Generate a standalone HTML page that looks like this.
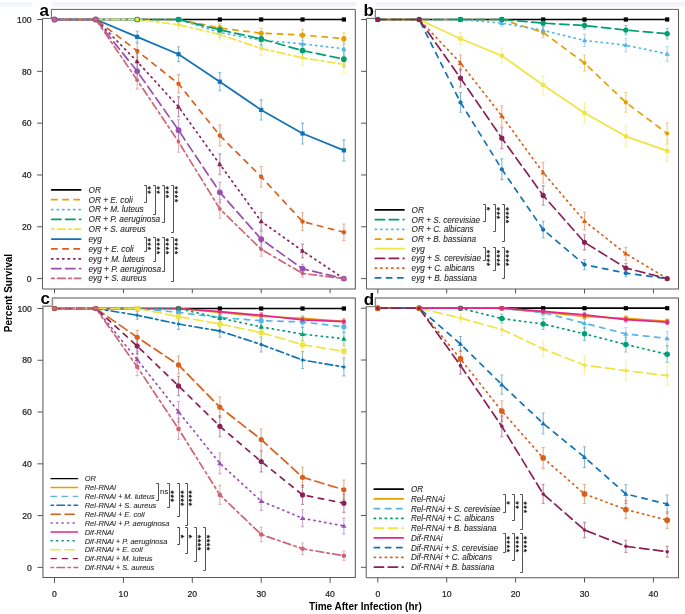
<!DOCTYPE html>
<html><head><meta charset="utf-8"><style>
html,body{margin:0;padding:0;background:#fff;width:685px;height:614px;overflow:hidden}
svg{display:block;font-family:"Liberation Sans",sans-serif;will-change:transform}
.tk{font-size:8.65px;fill:#222;stroke:#222;stroke-width:0.22}
.pl{font-size:17px;font-weight:bold;fill:#000}
.lg{font-style:italic;fill:#2a2a2a;stroke:#2a2a2a;stroke-width:0.1}
.ast{fill:#111;stroke:#111;stroke-width:0.25}
.ns{font-size:7.8px;fill:#2a2a2a;stroke:#2a2a2a;stroke-width:0.1}
.ax{font-size:10px;font-weight:bold;fill:#000}
</style></head><body>
<svg width="685" height="614" viewBox="0 0 685 614">
<rect x="0" y="0" width="685" height="614" fill="#fff"/>
<rect x="0" y="2" width="32.4" height="4.6" fill="#F4F5F9"/>
<rect x="52.5" y="2" width="303.7" height="4.6" fill="#F3F4F9"/>
<rect x="375.9" y="2" width="309.1" height="4.6" fill="#F3F4F9"/>
<path d="M42.5 289V18.4H51.4V9.4H355.3" fill="none" stroke="#606060" stroke-width="1"/>
<path d="M355.3 9.4V289H42.5" fill="none" stroke="#585858" stroke-width="1.05"/>
<path d="M37.1 278.6H42.5" stroke="#555" stroke-width="1"/>
<text x="31.5" y="281.8" text-anchor="end" class="tk">0</text>
<path d="M37.1 226.78H42.5" stroke="#555" stroke-width="1"/>
<text x="31.5" y="229.98" text-anchor="end" class="tk">20</text>
<path d="M37.1 174.96H42.5" stroke="#555" stroke-width="1"/>
<text x="31.5" y="178.16" text-anchor="end" class="tk">40</text>
<path d="M37.1 123.14H42.5" stroke="#555" stroke-width="1"/>
<text x="31.5" y="126.34" text-anchor="end" class="tk">60</text>
<path d="M37.1 71.32H42.5" stroke="#555" stroke-width="1"/>
<text x="31.5" y="74.52" text-anchor="end" class="tk">80</text>
<path d="M37.1 19.5H42.5" stroke="#555" stroke-width="1"/>
<text x="31.5" y="22.7" text-anchor="end" class="tk">100</text>
<path d="M54.5 289V293.2" stroke="#555" stroke-width="1"/>
<path d="M123.4 289V293.2" stroke="#555" stroke-width="1"/>
<path d="M192.3 289V293.2" stroke="#555" stroke-width="1"/>
<path d="M261.2 289V293.2" stroke="#555" stroke-width="1"/>
<path d="M330.1 289V293.2" stroke="#555" stroke-width="1"/>
<text x="39.6" y="15.8" class="pl">a</text>
<polyline points="54.5,19.5 95.84,19.5 137.18,19.5 178.52,19.5 219.86,19.5 261.2,19.5 302.54,19.5 343.88,19.5" fill="none" stroke="#000000" stroke-width="1.7" stroke-linecap="round" stroke-linejoin="round"/>
<polyline points="54.5,19.5 95.84,19.5 137.18,19.5 178.52,19.5 219.86,28.05 261.2,33.23 302.54,35.05 343.88,38.67" fill="none" stroke="#E69F00" stroke-width="1.7" stroke-linecap="round" stroke-linejoin="round" stroke-dasharray="5.3,5.9"/>
<polyline points="54.5,19.5 95.84,19.5 137.18,19.5 178.52,19.5 219.86,32.45 261.2,40.23 302.54,43.86 343.88,48.78" fill="none" stroke="#56B4E9" stroke-width="1.7" stroke-linecap="round" stroke-linejoin="round" stroke-dasharray="1.2,4.3"/>
<polyline points="54.5,19.5 95.84,19.5 137.18,19.5 178.52,19.5 219.86,29.86 261.2,38.93 302.54,50.59 343.88,59.14" fill="none" stroke="#009E73" stroke-width="1.7" stroke-linecap="round" stroke-linejoin="round" stroke-dasharray="9.3,4.7"/>
<polyline points="54.5,19.5 95.84,19.5 137.18,19.5 178.52,24.68 219.86,34.53 261.2,48.52 302.54,57.85 343.88,64.32" fill="none" stroke="#F0E442" stroke-width="1.7" stroke-linecap="round" stroke-linejoin="round" stroke-dasharray="2.5,3.4,7.7,3.4"/>
<polyline points="54.5,19.5 95.84,19.5 137.18,36.86 178.52,54.22 219.86,81.68 261.2,109.93 302.54,133.5 343.88,150.35" fill="none" stroke="#1273B4" stroke-width="1.7" stroke-linecap="round" stroke-linejoin="round"/>
<polyline points="54.5,19.5 95.84,19.5 137.18,50.85 178.52,83.76 219.86,135.58 261.2,176.77 302.54,221.6 343.88,232.22" fill="none" stroke="#D9601C" stroke-width="1.7" stroke-linecap="round" stroke-linejoin="round" stroke-dasharray="5.3,5.9"/>
<polyline points="54.5,19.5 95.84,19.5 137.18,61.47 178.52,106.82 219.86,164.34 261.2,221.34 302.54,250.88 343.88,278.6" fill="none" stroke="#882255" stroke-width="1.7" stroke-linecap="round" stroke-linejoin="round" stroke-dasharray="1.2,4.3"/>
<polyline points="54.5,19.5 95.84,19.5 137.18,71.32 178.52,130.14 219.86,192.32 261.2,239.22 302.54,268.75 343.88,278.6" fill="none" stroke="#9A50B2" stroke-width="1.7" stroke-linecap="round" stroke-linejoin="round" stroke-dasharray="9.3,4.7"/>
<polyline points="54.5,19.5 95.84,19.5 137.18,80.13 178.52,141.8 219.86,208.9 261.2,249.32 302.54,273.42 343.88,278.6" fill="none" stroke="#CC6677" stroke-width="1.7" stroke-linecap="round" stroke-linejoin="round" stroke-dasharray="2.5,3.4,7.7,3.4"/>
<path d="M219.86 23.8V32.3M218.36 23.8H221.36M218.36 32.3H221.36" stroke="#E69F00" stroke-opacity="0.5" stroke-width="1.1" fill="none"/>
<path d="M261.2 28.1V38.36M259.7 28.1H262.7M259.7 38.36H262.7" stroke="#E69F00" stroke-opacity="0.5" stroke-width="1.1" fill="none"/>
<path d="M302.54 29.65V40.44M301.04 29.65H304.04M301.04 40.44H304.04" stroke="#E69F00" stroke-opacity="0.5" stroke-width="1.1" fill="none"/>
<path d="M343.88 32.81V44.54M342.38 32.81H345.38M342.38 44.54H345.38" stroke="#E69F00" stroke-opacity="0.5" stroke-width="1.1" fill="none"/>
<path d="M219.86 27.44V37.47M218.36 27.44H221.36M218.36 37.47H221.36" stroke="#56B4E9" stroke-opacity="0.5" stroke-width="1.1" fill="none"/>
<path d="M261.2 34.18V46.28M259.7 34.18H262.7M259.7 46.28H262.7" stroke="#56B4E9" stroke-opacity="0.5" stroke-width="1.1" fill="none"/>
<path d="M302.54 37.41V50.3M301.04 37.41H304.04M301.04 50.3H304.04" stroke="#56B4E9" stroke-opacity="0.5" stroke-width="1.1" fill="none"/>
<path d="M343.88 41.85V55.71M342.38 41.85H345.38M342.38 55.71H345.38" stroke="#56B4E9" stroke-opacity="0.5" stroke-width="1.1" fill="none"/>
<path d="M219.86 25.28V34.45M218.36 25.28H221.36M218.36 34.45H221.36" stroke="#009E73" stroke-opacity="0.5" stroke-width="1.1" fill="none"/>
<path d="M261.2 33.04V44.83M259.7 33.04H262.7M259.7 44.83H262.7" stroke="#009E73" stroke-opacity="0.5" stroke-width="1.1" fill="none"/>
<path d="M302.54 43.5V57.68M301.04 43.5H304.04M301.04 57.68H304.04" stroke="#009E73" stroke-opacity="0.5" stroke-width="1.1" fill="none"/>
<path d="M343.88 51.37V66.92M342.38 51.37H345.38M342.38 66.92H345.38" stroke="#009E73" stroke-opacity="0.5" stroke-width="1.1" fill="none"/>
<path d="M178.52 21.18V28.18M177.02 21.18H180.02M177.02 28.18H180.02" stroke="#F0E442" stroke-opacity="0.5" stroke-width="1.1" fill="none"/>
<path d="M219.86 29.21V39.85M218.36 29.21H221.36M218.36 39.85H221.36" stroke="#F0E442" stroke-opacity="0.5" stroke-width="1.1" fill="none"/>
<path d="M261.2 41.61V55.42M259.7 41.61H262.7M259.7 55.42H262.7" stroke="#F0E442" stroke-opacity="0.5" stroke-width="1.1" fill="none"/>
<path d="M302.54 50.17V65.52M301.04 50.17H304.04M301.04 65.52H304.04" stroke="#F0E442" stroke-opacity="0.5" stroke-width="1.1" fill="none"/>
<path d="M343.88 56.2V72.45M342.38 56.2H345.38M342.38 72.45H345.38" stroke="#F0E442" stroke-opacity="0.5" stroke-width="1.1" fill="none"/>
<path d="M137.18 31.22V42.5M135.68 31.22H138.68M135.68 42.5H138.68" stroke="#1273B4" stroke-opacity="0.5" stroke-width="1.1" fill="none"/>
<path d="M178.52 46.82V61.62M177.02 46.82H180.02M177.02 61.62H180.02" stroke="#1273B4" stroke-opacity="0.5" stroke-width="1.1" fill="none"/>
<path d="M219.86 72.61V90.76M218.36 72.61H221.36M218.36 90.76H221.36" stroke="#1273B4" stroke-opacity="0.5" stroke-width="1.1" fill="none"/>
<path d="M261.2 99.89V119.97M259.7 99.89H262.7M259.7 119.97H262.7" stroke="#1273B4" stroke-opacity="0.5" stroke-width="1.1" fill="none"/>
<path d="M302.54 123.08V143.93M301.04 123.08H304.04M301.04 143.93H304.04" stroke="#1273B4" stroke-opacity="0.5" stroke-width="1.1" fill="none"/>
<path d="M343.88 139.85V160.84M342.38 139.85H345.38M342.38 160.84H345.38" stroke="#1273B4" stroke-opacity="0.5" stroke-width="1.1" fill="none"/>
<path d="M137.18 43.74V57.97M135.68 43.74H138.68M135.68 57.97H138.68" stroke="#D9601C" stroke-opacity="0.5" stroke-width="1.1" fill="none"/>
<path d="M178.52 74.59V92.93M177.02 74.59H180.02M177.02 92.93H180.02" stroke="#D9601C" stroke-opacity="0.5" stroke-width="1.1" fill="none"/>
<path d="M219.86 125.14V146.02M218.36 125.14H221.36M218.36 146.02H221.36" stroke="#D9601C" stroke-opacity="0.5" stroke-width="1.1" fill="none"/>
<path d="M261.2 166.51V187.04M259.7 166.51H262.7M259.7 187.04H262.7" stroke="#D9601C" stroke-opacity="0.5" stroke-width="1.1" fill="none"/>
<path d="M302.54 212.77V230.43M301.04 212.77H304.04M301.04 230.43H304.04" stroke="#D9601C" stroke-opacity="0.5" stroke-width="1.1" fill="none"/>
<path d="M343.88 223.99V240.45M342.38 223.99H345.38M342.38 240.45H345.38" stroke="#D9601C" stroke-opacity="0.5" stroke-width="1.1" fill="none"/>
<path d="M137.18 53.54V69.41M135.68 53.54H138.68M135.68 69.41H138.68" stroke="#882255" stroke-opacity="0.5" stroke-width="1.1" fill="none"/>
<path d="M178.52 96.85V116.78M177.02 96.85H180.02M177.02 116.78H180.02" stroke="#882255" stroke-opacity="0.5" stroke-width="1.1" fill="none"/>
<path d="M219.86 153.91V174.76M218.36 153.91H221.36M218.36 174.76H221.36" stroke="#882255" stroke-opacity="0.5" stroke-width="1.1" fill="none"/>
<path d="M261.2 212.5V230.18M259.7 212.5H262.7M259.7 230.18H262.7" stroke="#882255" stroke-opacity="0.5" stroke-width="1.1" fill="none"/>
<path d="M302.54 244.09V257.66M301.04 244.09H304.04M301.04 257.66H304.04" stroke="#882255" stroke-opacity="0.5" stroke-width="1.1" fill="none"/>
<path d="M137.18 62.77V79.87M135.68 62.77H138.68M135.68 79.87H138.68" stroke="#9A50B2" stroke-opacity="0.5" stroke-width="1.1" fill="none"/>
<path d="M178.52 119.75V140.53M177.02 119.75H180.02M177.02 140.53H180.02" stroke="#9A50B2" stroke-opacity="0.5" stroke-width="1.1" fill="none"/>
<path d="M219.86 182.38V202.26M218.36 182.38H221.36M218.36 202.26H221.36" stroke="#9A50B2" stroke-opacity="0.5" stroke-width="1.1" fill="none"/>
<path d="M261.2 231.46V246.97M259.7 231.46H262.7M259.7 246.97H262.7" stroke="#9A50B2" stroke-opacity="0.5" stroke-width="1.1" fill="none"/>
<path d="M302.54 264.26V273.25M301.04 264.26H304.04M301.04 273.25H304.04" stroke="#9A50B2" stroke-opacity="0.5" stroke-width="1.1" fill="none"/>
<path d="M137.18 71.12V89.13M135.68 71.12H138.68M135.68 89.13H138.68" stroke="#CC6677" stroke-opacity="0.5" stroke-width="1.1" fill="none"/>
<path d="M178.52 131.32V152.27M177.02 131.32H180.02M177.02 152.27H180.02" stroke="#CC6677" stroke-opacity="0.5" stroke-width="1.1" fill="none"/>
<path d="M219.86 199.51V218.3M218.36 199.51H221.36M218.36 218.3H221.36" stroke="#CC6677" stroke-opacity="0.5" stroke-width="1.1" fill="none"/>
<path d="M261.2 242.39V256.25M259.7 242.39H262.7M259.7 256.25H262.7" stroke="#CC6677" stroke-opacity="0.5" stroke-width="1.1" fill="none"/>
<path d="M302.54 269.92V276.92M301.04 269.92H304.04M301.04 276.92H304.04" stroke="#CC6677" stroke-opacity="0.5" stroke-width="1.1" fill="none"/>
<rect x="52.4" y="17.4" width="4.2" height="4.2" fill="#000000"/>
<rect x="93.74" y="17.4" width="4.2" height="4.2" fill="#000000"/>
<rect x="135.08" y="17.4" width="4.2" height="4.2" fill="#000000"/>
<rect x="176.42" y="17.4" width="4.2" height="4.2" fill="#000000"/>
<rect x="217.76" y="17.4" width="4.2" height="4.2" fill="#000000"/>
<rect x="259.1" y="17.4" width="4.2" height="4.2" fill="#000000"/>
<rect x="300.44" y="17.4" width="4.2" height="4.2" fill="#000000"/>
<rect x="341.78" y="17.4" width="4.2" height="4.2" fill="#000000"/>
<circle cx="54.5" cy="19.5" r="2.6" fill="#E69F00"/>
<circle cx="95.84" cy="19.5" r="2.6" fill="#E69F00"/>
<circle cx="137.18" cy="19.5" r="2.6" fill="#E69F00"/>
<circle cx="178.52" cy="19.5" r="2.6" fill="#E69F00"/>
<circle cx="219.86" cy="28.05" r="2.6" fill="#E69F00"/>
<circle cx="261.2" cy="33.23" r="2.6" fill="#E69F00"/>
<circle cx="302.54" cy="35.05" r="2.6" fill="#E69F00"/>
<circle cx="343.88" cy="38.67" r="2.6" fill="#E69F00"/>
<path d="M54.5 16.98L57.15 21.36L51.85 21.36Z" fill="#56B4E9"/>
<path d="M95.84 16.98L98.49 21.36L93.19 21.36Z" fill="#56B4E9"/>
<path d="M137.18 16.98L139.83 21.36L134.53 21.36Z" fill="#56B4E9"/>
<path d="M178.52 16.98L181.17 21.36L175.87 21.36Z" fill="#56B4E9"/>
<path d="M219.86 29.94L222.51 34.31L217.21 34.31Z" fill="#56B4E9"/>
<path d="M261.2 37.71L263.85 42.08L258.55 42.08Z" fill="#56B4E9"/>
<path d="M302.54 41.34L305.19 45.71L299.89 45.71Z" fill="#56B4E9"/>
<path d="M343.88 46.26L346.53 50.63L341.23 50.63Z" fill="#56B4E9"/>
<circle cx="54.5" cy="19.5" r="2.86" fill="#009E73"/>
<circle cx="95.84" cy="19.5" r="2.86" fill="#009E73"/>
<circle cx="137.18" cy="19.5" r="2.86" fill="#009E73"/>
<circle cx="178.52" cy="19.5" r="2.86" fill="#009E73"/>
<circle cx="219.86" cy="29.86" r="2.86" fill="#009E73"/>
<circle cx="261.2" cy="38.93" r="2.86" fill="#009E73"/>
<circle cx="302.54" cy="50.59" r="2.86" fill="#009E73"/>
<circle cx="343.88" cy="59.14" r="2.86" fill="#009E73"/>
<circle cx="54.5" cy="19.5" r="1.95" fill="#F0E442"/>
<circle cx="95.84" cy="19.5" r="1.95" fill="#F0E442"/>
<circle cx="137.18" cy="19.5" r="1.95" fill="#F0E442"/>
<circle cx="178.52" cy="24.68" r="1.95" fill="#F0E442"/>
<circle cx="219.86" cy="34.53" r="1.95" fill="#F0E442"/>
<circle cx="261.2" cy="48.52" r="1.95" fill="#F0E442"/>
<circle cx="302.54" cy="57.85" r="1.95" fill="#F0E442"/>
<circle cx="343.88" cy="64.32" r="1.95" fill="#F0E442"/>
<rect x="52.4" y="17.4" width="4.2" height="4.2" fill="#1273B4"/>
<rect x="93.74" y="17.4" width="4.2" height="4.2" fill="#1273B4"/>
<rect x="135.08" y="34.76" width="4.2" height="4.2" fill="#1273B4"/>
<rect x="176.42" y="52.12" width="4.2" height="4.2" fill="#1273B4"/>
<rect x="217.76" y="79.58" width="4.2" height="4.2" fill="#1273B4"/>
<rect x="259.1" y="107.83" width="4.2" height="4.2" fill="#1273B4"/>
<rect x="300.44" y="131.4" width="4.2" height="4.2" fill="#1273B4"/>
<rect x="341.78" y="148.25" width="4.2" height="4.2" fill="#1273B4"/>
<circle cx="54.5" cy="19.5" r="2.21" fill="#D9601C"/>
<circle cx="95.84" cy="19.5" r="2.21" fill="#D9601C"/>
<circle cx="137.18" cy="50.85" r="2.21" fill="#D9601C"/>
<circle cx="178.52" cy="83.76" r="2.21" fill="#D9601C"/>
<circle cx="219.86" cy="135.58" r="2.21" fill="#D9601C"/>
<circle cx="261.2" cy="176.77" r="2.21" fill="#D9601C"/>
<circle cx="302.54" cy="221.6" r="2.21" fill="#D9601C"/>
<circle cx="343.88" cy="232.22" r="2.21" fill="#D9601C"/>
<path d="M54.5 16.98L57.15 21.36L51.85 21.36Z" fill="#882255"/>
<path d="M95.84 16.98L98.49 21.36L93.19 21.36Z" fill="#882255"/>
<path d="M137.18 58.96L139.83 63.33L134.53 63.33Z" fill="#882255"/>
<path d="M178.52 104.3L181.17 108.67L175.87 108.67Z" fill="#882255"/>
<path d="M219.86 161.82L222.51 166.19L217.21 166.19Z" fill="#882255"/>
<path d="M261.2 218.82L263.85 223.19L258.55 223.19Z" fill="#882255"/>
<path d="M302.54 248.36L305.19 252.73L299.89 252.73Z" fill="#882255"/>
<path d="M343.88 276.08L346.53 280.46L341.23 280.46Z" fill="#882255"/>
<circle cx="54.5" cy="19.5" r="2.91" fill="#9A50B2"/>
<circle cx="95.84" cy="19.5" r="2.91" fill="#9A50B2"/>
<circle cx="137.18" cy="71.32" r="2.91" fill="#9A50B2"/>
<circle cx="178.52" cy="130.14" r="2.91" fill="#9A50B2"/>
<circle cx="219.86" cy="192.32" r="2.91" fill="#9A50B2"/>
<circle cx="261.2" cy="239.22" r="2.91" fill="#9A50B2"/>
<circle cx="302.54" cy="268.75" r="2.91" fill="#9A50B2"/>
<circle cx="343.88" cy="278.6" r="2.91" fill="#9A50B2"/>
<circle cx="54.5" cy="19.5" r="1.87" fill="#CC6677"/>
<circle cx="95.84" cy="19.5" r="1.87" fill="#CC6677"/>
<circle cx="137.18" cy="80.13" r="1.87" fill="#CC6677"/>
<circle cx="178.52" cy="141.8" r="1.87" fill="#CC6677"/>
<circle cx="219.86" cy="208.9" r="1.87" fill="#CC6677"/>
<circle cx="261.2" cy="249.32" r="1.87" fill="#CC6677"/>
<circle cx="302.54" cy="273.42" r="1.87" fill="#CC6677"/>
<circle cx="343.88" cy="278.6" r="1.87" fill="#CC6677"/>
<path d="M51.67 189.8H80.72" stroke="#000000" stroke-width="1.75" stroke-linecap="round"/>
<text x="88.5" y="192.77" class="lg" style="font-size:8.25px">OR</text>
<path d="M51.67 199.65H80.72" stroke="#E69F00" stroke-width="1.75" stroke-linecap="round" stroke-dasharray="5.3,5.9"/>
<text x="88.5" y="202.62" class="lg" style="font-size:8.25px">OR + E. coli</text>
<path d="M51.67 209.5H80.72" stroke="#56B4E9" stroke-width="1.75" stroke-linecap="round" stroke-dasharray="1.2,4.3"/>
<text x="88.5" y="212.47" class="lg" style="font-size:8.25px">OR + M. luteus</text>
<path d="M51.67 219.35H80.72" stroke="#009E73" stroke-width="1.75" stroke-linecap="round" stroke-dasharray="9.3,4.7"/>
<text x="88.5" y="222.32" class="lg" style="font-size:8.25px">OR + P. aeruginosa</text>
<path d="M51.67 229.2H80.72" stroke="#F0E442" stroke-width="1.75" stroke-linecap="round" stroke-dasharray="2.5,3.4,7.7,3.4"/>
<text x="88.5" y="232.17" class="lg" style="font-size:8.25px">OR + S. aureus</text>
<path d="M51.67 239.05H80.72" stroke="#1273B4" stroke-width="1.75" stroke-linecap="round"/>
<text x="88.5" y="242.02" class="lg" style="font-size:8.25px">eyg</text>
<path d="M51.67 248.9H80.72" stroke="#D9601C" stroke-width="1.75" stroke-linecap="round" stroke-dasharray="5.3,5.9"/>
<text x="88.5" y="251.87" class="lg" style="font-size:8.25px">eyg + E. coli</text>
<path d="M51.67 258.75H80.72" stroke="#882255" stroke-width="1.75" stroke-linecap="round" stroke-dasharray="1.2,4.3"/>
<text x="88.5" y="261.72" class="lg" style="font-size:8.25px">eyg + M. luteus</text>
<path d="M51.67 268.6H80.72" stroke="#9A50B2" stroke-width="1.75" stroke-linecap="round" stroke-dasharray="9.3,4.7"/>
<text x="88.5" y="271.57" class="lg" style="font-size:8.25px">eyg + P. aeruginosa</text>
<path d="M51.67 278.45H80.72" stroke="#CC6677" stroke-width="1.75" stroke-linecap="round" stroke-dasharray="2.5,3.4,7.7,3.4"/>
<text x="88.5" y="281.42" class="lg" style="font-size:8.25px">eyg + S. aureus</text>
<path d="M144.1 185.5H146.5V202.5H144.1" fill="none" stroke="#4a4a4a" stroke-width="0.95"/>
<text transform="translate(144.7 186.3) rotate(90)" class="ast" style="font-size:8.5px;letter-spacing:0.89px">**</text>
<path d="M153.1 185.5H155.5V214.5H153.1" fill="none" stroke="#4a4a4a" stroke-width="0.95"/>
<text transform="translate(153.7 186.3) rotate(90)" class="ast" style="font-size:8.5px;letter-spacing:0.89px">**</text>
<path d="M162.1 185.5H164.5V222.5H162.1" fill="none" stroke="#4a4a4a" stroke-width="0.95"/>
<text transform="translate(162.7 186.3) rotate(90)" class="ast" style="font-size:8.5px;letter-spacing:0.89px">***</text>
<path d="M171.1 185.5H173.5V232.5H171.1" fill="none" stroke="#4a4a4a" stroke-width="0.95"/>
<text transform="translate(171.7 186.3) rotate(90)" class="ast" style="font-size:8.5px;letter-spacing:0.89px">****</text>
<path d="M144.1 237.5H146.5V251.5H144.1" fill="none" stroke="#4a4a4a" stroke-width="0.95"/>
<text transform="translate(144.7 238.3) rotate(90)" class="ast" style="font-size:8.5px;letter-spacing:0.89px">***</text>
<path d="M153.1 237.5H155.5V261.5H153.1" fill="none" stroke="#4a4a4a" stroke-width="0.95"/>
<text transform="translate(153.7 238.3) rotate(90)" class="ast" style="font-size:8.5px;letter-spacing:0.89px">****</text>
<path d="M162.1 237.5H164.5V271.5H162.1" fill="none" stroke="#4a4a4a" stroke-width="0.95"/>
<text transform="translate(162.7 238.3) rotate(90)" class="ast" style="font-size:8.5px;letter-spacing:0.89px">****</text>
<path d="M171.1 237.5H173.5V281.5H171.1" fill="none" stroke="#4a4a4a" stroke-width="0.95"/>
<text transform="translate(171.7 238.3) rotate(90)" class="ast" style="font-size:8.5px;letter-spacing:0.89px">****</text>
<path d="M366.5 289V18.4H375.3V9.4H678.5" fill="none" stroke="#606060" stroke-width="1"/>
<path d="M678.5 9.4V289H366.5" fill="none" stroke="#585858" stroke-width="1.05"/>
<path d="M361.1 278.6H366.5" stroke="#555" stroke-width="1"/>
<path d="M361.1 226.78H366.5" stroke="#555" stroke-width="1"/>
<path d="M361.1 174.96H366.5" stroke="#555" stroke-width="1"/>
<path d="M361.1 123.14H366.5" stroke="#555" stroke-width="1"/>
<path d="M361.1 71.32H366.5" stroke="#555" stroke-width="1"/>
<path d="M361.1 19.5H366.5" stroke="#555" stroke-width="1"/>
<path d="M377.8 289V293.5" stroke="#555" stroke-width="1"/>
<path d="M446.7 289V293.5" stroke="#555" stroke-width="1"/>
<path d="M515.6 289V293.5" stroke="#555" stroke-width="1"/>
<path d="M584.5 289V293.5" stroke="#555" stroke-width="1"/>
<path d="M653.4 289V293.5" stroke="#555" stroke-width="1"/>
<text x="363.6" y="16.4" class="pl">b</text>
<polyline points="377.8,19.5 419.14,19.5 460.48,19.5 501.82,19.5 543.16,19.5 584.5,19.5 625.84,19.5 667.18,19.5" fill="none" stroke="#000000" stroke-width="1.7" stroke-linecap="round" stroke-linejoin="round"/>
<polyline points="377.8,19.5 419.14,19.5 460.48,19.5 501.82,19.5 543.16,32.45 584.5,63.03 625.84,102.41 667.18,133.5" fill="none" stroke="#E69F00" stroke-width="1.7" stroke-linecap="round" stroke-linejoin="round" stroke-dasharray="5.3,5.9"/>
<polyline points="377.8,19.5 419.14,19.5 460.48,19.5 501.82,23.13 543.16,30.38 584.5,40.49 625.84,45.15 667.18,53.96" fill="none" stroke="#56B4E9" stroke-width="1.7" stroke-linecap="round" stroke-linejoin="round" stroke-dasharray="1.2,4.3"/>
<polyline points="377.8,19.5 419.14,19.5 460.48,19.5 501.82,19.5 543.16,23.13 584.5,25.46 625.84,30.12 667.18,33.75" fill="none" stroke="#009E73" stroke-width="1.7" stroke-linecap="round" stroke-linejoin="round" stroke-dasharray="9.3,4.7"/>
<polyline points="377.8,19.5 419.14,19.5 460.48,38.67 501.82,55.77 543.16,85.05 584.5,113.04 625.84,136.35 667.18,150.86" fill="none" stroke="#F0E442" stroke-width="1.7" stroke-linecap="round" stroke-linejoin="round"/>
<polyline points="377.8,19.5 419.14,19.5 460.48,102.41 501.82,169.26 543.16,229.63 584.5,264.61 625.84,273.16 667.18,278.6" fill="none" stroke="#1273B4" stroke-width="1.7" stroke-linecap="round" stroke-linejoin="round" stroke-dasharray="5.3,5.9"/>
<polyline points="377.8,19.5 419.14,19.5 460.48,63.03 501.82,115.89 543.16,172.63 584.5,221.08 625.84,253.73 667.18,278.6" fill="none" stroke="#D9601C" stroke-width="1.7" stroke-linecap="round" stroke-linejoin="round" stroke-dasharray="1.2,4.3"/>
<polyline points="377.8,19.5 419.14,19.5 460.48,78.06 501.82,138.17 543.16,195.43 584.5,242.33 625.84,267.98 667.18,278.6" fill="none" stroke="#882255" stroke-width="1.7" stroke-linecap="round" stroke-linejoin="round" stroke-dasharray="9.3,4.7"/>
<path d="M543.16 27.44V37.47M541.66 27.44H544.66M541.66 37.47H544.66" stroke="#E69F00" stroke-opacity="0.5" stroke-width="1.1" fill="none"/>
<path d="M584.5 54.99V71.07M583 54.99H586M583 71.07H586" stroke="#E69F00" stroke-opacity="0.5" stroke-width="1.1" fill="none"/>
<path d="M625.84 92.57V112.25M624.34 92.57H627.34M624.34 112.25H627.34" stroke="#E69F00" stroke-opacity="0.5" stroke-width="1.1" fill="none"/>
<path d="M667.18 123.08V143.93M665.68 123.08H668.68M665.68 143.93H668.68" stroke="#E69F00" stroke-opacity="0.5" stroke-width="1.1" fill="none"/>
<path d="M501.82 20.07V26.19M500.32 20.07H503.32M500.32 26.19H503.32" stroke="#56B4E9" stroke-opacity="0.5" stroke-width="1.1" fill="none"/>
<path d="M543.16 25.71V35.06M541.66 25.71H544.66M541.66 35.06H544.66" stroke="#56B4E9" stroke-opacity="0.5" stroke-width="1.1" fill="none"/>
<path d="M584.5 34.41V46.57M583 34.41H586M583 46.57H586" stroke="#56B4E9" stroke-opacity="0.5" stroke-width="1.1" fill="none"/>
<path d="M625.84 38.57V51.73M624.34 38.57H627.34M624.34 51.73H627.34" stroke="#56B4E9" stroke-opacity="0.5" stroke-width="1.1" fill="none"/>
<path d="M667.18 46.58V61.34M665.68 46.58H668.68M665.68 61.34H668.68" stroke="#56B4E9" stroke-opacity="0.5" stroke-width="1.1" fill="none"/>
<path d="M543.16 20.07V26.19M541.66 20.07H544.66M541.66 26.19H544.66" stroke="#009E73" stroke-opacity="0.5" stroke-width="1.1" fill="none"/>
<path d="M584.5 21.77V29.15M583 21.77H586M583 29.15H586" stroke="#009E73" stroke-opacity="0.5" stroke-width="1.1" fill="none"/>
<path d="M625.84 25.49V34.75M624.34 25.49H627.34M624.34 34.75H627.34" stroke="#009E73" stroke-opacity="0.5" stroke-width="1.1" fill="none"/>
<path d="M667.18 28.54V38.96M665.68 28.54H668.68M665.68 38.96H668.68" stroke="#009E73" stroke-opacity="0.5" stroke-width="1.1" fill="none"/>
<path d="M460.48 32.81V44.54M458.98 32.81H461.98M458.98 44.54H461.98" stroke="#F0E442" stroke-opacity="0.5" stroke-width="1.1" fill="none"/>
<path d="M501.82 48.25V63.29M500.32 48.25H503.32M500.32 63.29H503.32" stroke="#F0E442" stroke-opacity="0.5" stroke-width="1.1" fill="none"/>
<path d="M543.16 75.83V94.28M541.66 75.83H544.66M541.66 94.28H544.66" stroke="#F0E442" stroke-opacity="0.5" stroke-width="1.1" fill="none"/>
<path d="M584.5 102.92V123.15M583 102.92H586M583 123.15H586" stroke="#F0E442" stroke-opacity="0.5" stroke-width="1.1" fill="none"/>
<path d="M625.84 125.91V146.8M624.34 125.91H627.34M624.34 146.8H627.34" stroke="#F0E442" stroke-opacity="0.5" stroke-width="1.1" fill="none"/>
<path d="M667.18 140.37V161.36M665.68 140.37H668.68M665.68 161.36H668.68" stroke="#F0E442" stroke-opacity="0.5" stroke-width="1.1" fill="none"/>
<path d="M460.48 92.57V112.25M458.98 92.57H461.98M458.98 112.25H461.98" stroke="#1273B4" stroke-opacity="0.5" stroke-width="1.1" fill="none"/>
<path d="M501.82 158.89V179.63M500.32 158.89H503.32M500.32 179.63H503.32" stroke="#1273B4" stroke-opacity="0.5" stroke-width="1.1" fill="none"/>
<path d="M543.16 221.24V238.02M541.66 221.24H544.66M541.66 238.02H544.66" stroke="#1273B4" stroke-opacity="0.5" stroke-width="1.1" fill="none"/>
<path d="M584.5 259.44V269.78M583 259.44H586M583 269.78H586" stroke="#1273B4" stroke-opacity="0.5" stroke-width="1.1" fill="none"/>
<path d="M625.84 269.6V276.72M624.34 269.6H627.34M624.34 276.72H627.34" stroke="#1273B4" stroke-opacity="0.5" stroke-width="1.1" fill="none"/>
<path d="M460.48 54.99V71.07M458.98 54.99H461.98M458.98 71.07H461.98" stroke="#D9601C" stroke-opacity="0.5" stroke-width="1.1" fill="none"/>
<path d="M501.82 105.72V126.05M500.32 105.72H503.32M500.32 126.05H503.32" stroke="#D9601C" stroke-opacity="0.5" stroke-width="1.1" fill="none"/>
<path d="M543.16 162.3V182.96M541.66 162.3H544.66M541.66 182.96H544.66" stroke="#D9601C" stroke-opacity="0.5" stroke-width="1.1" fill="none"/>
<path d="M584.5 212.23V229.93M583 212.23H586M583 229.93H586" stroke="#D9601C" stroke-opacity="0.5" stroke-width="1.1" fill="none"/>
<path d="M625.84 247.22V260.23M624.34 247.22H627.34M624.34 260.23H627.34" stroke="#D9601C" stroke-opacity="0.5" stroke-width="1.1" fill="none"/>
<path d="M460.48 69.15V86.96M458.98 69.15H461.98M458.98 86.96H461.98" stroke="#882255" stroke-opacity="0.5" stroke-width="1.1" fill="none"/>
<path d="M501.82 127.71V148.63M500.32 127.71H503.32M500.32 148.63H503.32" stroke="#882255" stroke-opacity="0.5" stroke-width="1.1" fill="none"/>
<path d="M543.16 185.58V205.28M541.66 185.58H544.66M541.66 205.28H544.66" stroke="#882255" stroke-opacity="0.5" stroke-width="1.1" fill="none"/>
<path d="M584.5 234.81V249.85M583 234.81H586M583 249.85H586" stroke="#882255" stroke-opacity="0.5" stroke-width="1.1" fill="none"/>
<path d="M625.84 263.35V272.61M624.34 263.35H627.34M624.34 272.61H627.34" stroke="#882255" stroke-opacity="0.5" stroke-width="1.1" fill="none"/>
<rect x="375.7" y="17.4" width="4.2" height="4.2" fill="#000000"/>
<rect x="417.04" y="17.4" width="4.2" height="4.2" fill="#000000"/>
<rect x="458.38" y="17.4" width="4.2" height="4.2" fill="#000000"/>
<rect x="499.72" y="17.4" width="4.2" height="4.2" fill="#000000"/>
<rect x="541.06" y="17.4" width="4.2" height="4.2" fill="#000000"/>
<rect x="582.4" y="17.4" width="4.2" height="4.2" fill="#000000"/>
<rect x="623.74" y="17.4" width="4.2" height="4.2" fill="#000000"/>
<rect x="665.08" y="17.4" width="4.2" height="4.2" fill="#000000"/>
<circle cx="377.8" cy="19.5" r="2.08" fill="#E69F00"/>
<circle cx="419.14" cy="19.5" r="2.08" fill="#E69F00"/>
<circle cx="460.48" cy="19.5" r="2.08" fill="#E69F00"/>
<circle cx="501.82" cy="19.5" r="2.08" fill="#E69F00"/>
<circle cx="543.16" cy="32.45" r="2.08" fill="#E69F00"/>
<circle cx="584.5" cy="63.03" r="2.08" fill="#E69F00"/>
<circle cx="625.84" cy="102.41" r="2.08" fill="#E69F00"/>
<circle cx="667.18" cy="133.5" r="2.08" fill="#E69F00"/>
<path d="M377.8 16.98L380.45 21.36L375.15 21.36Z" fill="#56B4E9"/>
<path d="M419.14 16.98L421.79 21.36L416.49 21.36Z" fill="#56B4E9"/>
<path d="M460.48 16.98L463.13 21.36L457.83 21.36Z" fill="#56B4E9"/>
<path d="M501.82 20.61L504.47 24.98L499.17 24.98Z" fill="#56B4E9"/>
<path d="M543.16 27.86L545.81 32.24L540.51 32.24Z" fill="#56B4E9"/>
<path d="M584.5 37.97L587.15 42.34L581.85 42.34Z" fill="#56B4E9"/>
<path d="M625.84 42.63L628.49 47.01L623.19 47.01Z" fill="#56B4E9"/>
<path d="M667.18 51.44L669.83 55.82L664.53 55.82Z" fill="#56B4E9"/>
<circle cx="377.8" cy="19.5" r="2.65" fill="#009E73"/>
<circle cx="419.14" cy="19.5" r="2.65" fill="#009E73"/>
<circle cx="460.48" cy="19.5" r="2.65" fill="#009E73"/>
<circle cx="501.82" cy="19.5" r="2.65" fill="#009E73"/>
<circle cx="543.16" cy="23.13" r="2.65" fill="#009E73"/>
<circle cx="584.5" cy="25.46" r="2.65" fill="#009E73"/>
<circle cx="625.84" cy="30.12" r="2.65" fill="#009E73"/>
<circle cx="667.18" cy="33.75" r="2.65" fill="#009E73"/>
<rect x="375.7" y="17.4" width="4.2" height="4.2" fill="#F0E442"/>
<rect x="417.04" y="17.4" width="4.2" height="4.2" fill="#F0E442"/>
<rect x="458.38" y="36.57" width="4.2" height="4.2" fill="#F0E442"/>
<rect x="499.72" y="53.67" width="4.2" height="4.2" fill="#F0E442"/>
<rect x="541.06" y="82.95" width="4.2" height="4.2" fill="#F0E442"/>
<rect x="582.4" y="110.94" width="4.2" height="4.2" fill="#F0E442"/>
<rect x="623.74" y="134.25" width="4.2" height="4.2" fill="#F0E442"/>
<rect x="665.08" y="148.76" width="4.2" height="4.2" fill="#F0E442"/>
<circle cx="377.8" cy="19.5" r="2.08" fill="#1273B4"/>
<circle cx="419.14" cy="19.5" r="2.08" fill="#1273B4"/>
<circle cx="460.48" cy="102.41" r="2.08" fill="#1273B4"/>
<circle cx="501.82" cy="169.26" r="2.08" fill="#1273B4"/>
<circle cx="543.16" cy="229.63" r="2.08" fill="#1273B4"/>
<circle cx="584.5" cy="264.61" r="2.08" fill="#1273B4"/>
<circle cx="625.84" cy="273.16" r="2.08" fill="#1273B4"/>
<circle cx="667.18" cy="278.6" r="2.08" fill="#1273B4"/>
<path d="M377.8 16.98L380.45 21.36L375.15 21.36Z" fill="#D9601C"/>
<path d="M419.14 16.98L421.79 21.36L416.49 21.36Z" fill="#D9601C"/>
<path d="M460.48 60.51L463.13 64.88L457.83 64.88Z" fill="#D9601C"/>
<path d="M501.82 113.37L504.47 117.74L499.17 117.74Z" fill="#D9601C"/>
<path d="M543.16 170.11L545.81 174.48L540.51 174.48Z" fill="#D9601C"/>
<path d="M584.5 218.56L587.15 222.93L581.85 222.93Z" fill="#D9601C"/>
<path d="M625.84 251.21L628.49 255.58L623.19 255.58Z" fill="#D9601C"/>
<path d="M667.18 276.08L669.83 280.46L664.53 280.46Z" fill="#D9601C"/>
<circle cx="377.8" cy="19.5" r="2.6" fill="#882255"/>
<circle cx="419.14" cy="19.5" r="2.6" fill="#882255"/>
<circle cx="460.48" cy="78.06" r="2.6" fill="#882255"/>
<circle cx="501.82" cy="138.17" r="2.6" fill="#882255"/>
<circle cx="543.16" cy="195.43" r="2.6" fill="#882255"/>
<circle cx="584.5" cy="242.33" r="2.6" fill="#882255"/>
<circle cx="625.84" cy="267.98" r="2.6" fill="#882255"/>
<circle cx="667.18" cy="278.6" r="2.6" fill="#882255"/>
<path d="M375.27 209.9H403.93" stroke="#000000" stroke-width="1.75" stroke-linecap="round"/>
<text x="411.6" y="212.85" class="lg" style="font-size:8.2px">OR</text>
<path d="M375.27 219.6H403.93" stroke="#009E73" stroke-width="1.75" stroke-linecap="round" stroke-dasharray="9.3,4.7"/>
<text x="411.6" y="222.55" class="lg" style="font-size:8.2px">OR + S. cerevisiae</text>
<path d="M375.27 229.3H403.93" stroke="#56B4E9" stroke-width="1.75" stroke-linecap="round" stroke-dasharray="1.2,4.3"/>
<text x="411.6" y="232.25" class="lg" style="font-size:8.2px">OR + C. albicans</text>
<path d="M375.27 239H403.93" stroke="#E69F00" stroke-width="1.75" stroke-linecap="round" stroke-dasharray="5.3,5.9"/>
<text x="411.6" y="241.95" class="lg" style="font-size:8.2px">OR + B. bassiana</text>
<path d="M375.27 248.7H403.93" stroke="#F0E442" stroke-width="1.75" stroke-linecap="round"/>
<text x="411.6" y="251.65" class="lg" style="font-size:8.2px">eyg</text>
<path d="M375.27 258.4H403.93" stroke="#882255" stroke-width="1.75" stroke-linecap="round" stroke-dasharray="9.3,4.7"/>
<text x="411.6" y="261.35" class="lg" style="font-size:8.2px">eyg + S. cerevisiae</text>
<path d="M375.27 268.1H403.93" stroke="#D9601C" stroke-width="1.75" stroke-linecap="round" stroke-dasharray="1.2,4.3"/>
<text x="411.6" y="271.05" class="lg" style="font-size:8.2px">eyg + C. albicans</text>
<path d="M375.27 277.8H403.93" stroke="#1273B4" stroke-width="1.75" stroke-linecap="round" stroke-dasharray="5.3,5.9"/>
<text x="411.6" y="280.75" class="lg" style="font-size:8.2px">eyg + B. bassiana</text>
<path d="M483.1 204.5H485.5V221.5H483.1" fill="none" stroke="#4a4a4a" stroke-width="0.95"/>
<text transform="translate(484.34 206.91) rotate(90)" class="ast" style="font-size:9px;letter-spacing:0.7px">*</text>
<path d="M493.1 204.5H495.5V231.5H493.1" fill="none" stroke="#4a4a4a" stroke-width="0.95"/>
<text transform="translate(494.34 207.21) rotate(90)" class="ast" style="font-size:9px;letter-spacing:0.7px">***</text>
<path d="M502.1 204.5H504.5V241.5H502.1" fill="none" stroke="#4a4a4a" stroke-width="0.95"/>
<text transform="translate(503.34 207.21) rotate(90)" class="ast" style="font-size:9px;letter-spacing:0.7px">****</text>
<path d="M483.1 247.5H485.5V260.5H483.1" fill="none" stroke="#4a4a4a" stroke-width="0.95"/>
<text transform="translate(484.34 250.01) rotate(90)" class="ast" style="font-size:9px;letter-spacing:0.7px">****</text>
<path d="M493.1 247.5H495.5V270.5H493.1" fill="none" stroke="#4a4a4a" stroke-width="0.95"/>
<text transform="translate(494.34 250.01) rotate(90)" class="ast" style="font-size:9px;letter-spacing:0.7px">****</text>
<path d="M502.1 247.5H504.5V278.5H502.1" fill="none" stroke="#4a4a4a" stroke-width="0.95"/>
<text transform="translate(503.34 250.01) rotate(90)" class="ast" style="font-size:9px;letter-spacing:0.7px">****</text>
<path d="M42.9 577.5V306.3H52.4V298H355.3" fill="none" stroke="#8a8a8a" stroke-width="1.45"/>
<path d="M355.3 298V577.5H42.9" fill="none" stroke="#585858" stroke-width="1.05"/>
<path d="M37.5 567.4H42.9" stroke="#555" stroke-width="1"/>
<text x="31.9" y="570.6" text-anchor="end" class="tk">0</text>
<path d="M37.5 515.62H42.9" stroke="#555" stroke-width="1"/>
<text x="31.9" y="518.82" text-anchor="end" class="tk">20</text>
<path d="M37.5 463.84H42.9" stroke="#555" stroke-width="1"/>
<text x="31.9" y="467.04" text-anchor="end" class="tk">40</text>
<path d="M37.5 412.06H42.9" stroke="#555" stroke-width="1"/>
<text x="31.9" y="415.26" text-anchor="end" class="tk">60</text>
<path d="M37.5 360.28H42.9" stroke="#555" stroke-width="1"/>
<text x="31.9" y="363.48" text-anchor="end" class="tk">80</text>
<path d="M37.5 308.5H42.9" stroke="#555" stroke-width="1"/>
<text x="31.9" y="311.7" text-anchor="end" class="tk">100</text>
<path d="M54.5 577.5V582.9" stroke="#555" stroke-width="1"/>
<text x="54.5" y="596.8" text-anchor="middle" class="tk">0</text>
<path d="M123.4 577.5V582.9" stroke="#555" stroke-width="1"/>
<text x="123.4" y="596.8" text-anchor="middle" class="tk">10</text>
<path d="M192.3 577.5V582.9" stroke="#555" stroke-width="1"/>
<text x="192.3" y="596.8" text-anchor="middle" class="tk">20</text>
<path d="M261.2 577.5V582.9" stroke="#555" stroke-width="1"/>
<text x="261.2" y="596.8" text-anchor="middle" class="tk">30</text>
<path d="M330.1 577.5V582.9" stroke="#555" stroke-width="1"/>
<text x="330.1" y="596.8" text-anchor="middle" class="tk">40</text>
<text x="40.6" y="303.9" class="pl">c</text>
<polyline points="54.5,308.5 95.84,308.5 137.18,308.5 178.52,308.5 219.86,308.5 261.2,308.5 302.54,308.5 343.88,308.5" fill="none" stroke="#000000" stroke-width="1.7" stroke-linecap="round" stroke-linejoin="round"/>
<polyline points="54.5,308.5 95.84,308.5 137.18,308.5 178.52,308.5 219.86,312.38 261.2,316.27 302.54,318.34 343.88,321.45" fill="none" stroke="#E69F00" stroke-width="1.7" stroke-linecap="round" stroke-linejoin="round"/>
<polyline points="54.5,308.5 95.84,308.5 137.18,308.5 178.52,312.38 219.86,317.56 261.2,320.67 302.54,321.96 343.88,326.88" fill="none" stroke="#56B4E9" stroke-width="1.7" stroke-linecap="round" stroke-linejoin="round" stroke-dasharray="5.3,5.9"/>
<polyline points="54.5,308.5 95.84,308.5 137.18,315.23 178.52,324.03 219.86,331.02 261.2,344.49 302.54,360.02 343.88,367.01" fill="none" stroke="#1273B4" stroke-width="1.7" stroke-linecap="round" stroke-linejoin="round" stroke-dasharray="2.5,3.4,7.7,3.4"/>
<polyline points="54.5,308.5 95.84,308.5 137.18,337.24 178.52,364.94 219.86,407.14 261.2,439.5 302.54,477.3 343.88,489.73" fill="none" stroke="#D9601C" stroke-width="1.7" stroke-linecap="round" stroke-linejoin="round" stroke-dasharray="9.3,4.7"/>
<polyline points="54.5,308.5 95.84,308.5 137.18,359.5 178.52,411.8 219.86,463.32 261.2,501.12 302.54,518.21 343.88,525.98" fill="none" stroke="#9A50B2" stroke-width="1.7" stroke-linecap="round" stroke-linejoin="round" stroke-dasharray="1.2,4.3"/>
<polyline points="54.5,308.5 95.84,308.5 137.18,308.5 178.52,308.5 219.86,311.61 261.2,315.23 302.54,319.89 343.88,321.7" fill="none" stroke="#E0288A" stroke-width="1.7" stroke-linecap="round" stroke-linejoin="round"/>
<polyline points="54.5,308.5 95.84,308.5 137.18,308.5 178.52,308.5 219.86,318.08 261.2,326.88 302.54,334.13 343.88,338.79" fill="none" stroke="#009E73" stroke-width="1.7" stroke-linecap="round" stroke-linejoin="round" stroke-dasharray="1.2,4.3"/>
<polyline points="54.5,308.5 95.84,308.5 137.18,308.5 178.52,316.53 219.86,324.03 261.2,332.58 302.54,344.75 343.88,351.22" fill="none" stroke="#F0E442" stroke-width="1.7" stroke-linecap="round" stroke-linejoin="round" stroke-dasharray="9.3,4.7"/>
<polyline points="54.5,308.5 95.84,308.5 137.18,346.04 178.52,385.91 219.86,426.3 261.2,461.51 302.54,494.91 343.88,503.19" fill="none" stroke="#882255" stroke-width="1.7" stroke-linecap="round" stroke-linejoin="round" stroke-dasharray="5.3,5.9"/>
<polyline points="54.5,308.5 95.84,308.5 137.18,366.75 178.52,428.89 219.86,494.91 261.2,534.52 302.54,548.76 343.88,555.75" fill="none" stroke="#CC6677" stroke-width="1.7" stroke-linecap="round" stroke-linejoin="round" stroke-dasharray="2.5,3.4,7.7,3.4"/>
<path d="M219.86 310.31V314.45M218.36 310.31H221.36M218.36 314.45H221.36" stroke="#E69F00" stroke-opacity="0.5" stroke-width="1.1" fill="none"/>
<path d="M261.2 313.68V318.86M259.7 313.68H262.7M259.7 318.86H262.7" stroke="#E69F00" stroke-opacity="0.5" stroke-width="1.1" fill="none"/>
<path d="M302.54 315.75V320.93M301.04 315.75H304.04M301.04 320.93H304.04" stroke="#E69F00" stroke-opacity="0.5" stroke-width="1.1" fill="none"/>
<path d="M343.88 318.86V324.03M342.38 318.86H345.38M342.38 324.03H345.38" stroke="#E69F00" stroke-opacity="0.5" stroke-width="1.1" fill="none"/>
<path d="M178.52 309.25V315.52M177.02 309.25H180.02M177.02 315.52H180.02" stroke="#56B4E9" stroke-opacity="0.5" stroke-width="1.1" fill="none"/>
<path d="M219.86 313.22V321.91M218.36 313.22H221.36M218.36 321.91H221.36" stroke="#56B4E9" stroke-opacity="0.5" stroke-width="1.1" fill="none"/>
<path d="M261.2 315.78V325.55M259.7 315.78H262.7M259.7 325.55H262.7" stroke="#56B4E9" stroke-opacity="0.5" stroke-width="1.1" fill="none"/>
<path d="M302.54 316.87V327.05M301.04 316.87H304.04M301.04 327.05H304.04" stroke="#56B4E9" stroke-opacity="0.5" stroke-width="1.1" fill="none"/>
<path d="M343.88 321.12V332.65M342.38 321.12H345.38M342.38 332.65H345.38" stroke="#56B4E9" stroke-opacity="0.5" stroke-width="1.1" fill="none"/>
<path d="M137.18 311.36V319.1M135.68 311.36H138.68M135.68 319.1H138.68" stroke="#1273B4" stroke-opacity="0.5" stroke-width="1.1" fill="none"/>
<path d="M178.52 318.65V329.42M177.02 318.65H180.02M177.02 329.42H180.02" stroke="#1273B4" stroke-opacity="0.5" stroke-width="1.1" fill="none"/>
<path d="M219.86 324.78V337.27M218.36 324.78H221.36M218.36 337.27H221.36" stroke="#1273B4" stroke-opacity="0.5" stroke-width="1.1" fill="none"/>
<path d="M261.2 336.99V351.98M259.7 336.99H262.7M259.7 351.98H262.7" stroke="#1273B4" stroke-opacity="0.5" stroke-width="1.1" fill="none"/>
<path d="M302.54 351.49V368.55M301.04 351.49H304.04M301.04 368.55H304.04" stroke="#1273B4" stroke-opacity="0.5" stroke-width="1.1" fill="none"/>
<path d="M343.88 358.11V375.91M342.38 358.11H345.38M342.38 375.91H345.38" stroke="#1273B4" stroke-opacity="0.5" stroke-width="1.1" fill="none"/>
<path d="M137.18 330.36V344.11M135.68 330.36H138.68M135.68 344.11H138.68" stroke="#D9601C" stroke-opacity="0.5" stroke-width="1.1" fill="none"/>
<path d="M178.52 356.15V373.73M177.02 356.15H180.02M177.02 373.73H180.02" stroke="#D9601C" stroke-opacity="0.5" stroke-width="1.1" fill="none"/>
<path d="M219.86 396.93V417.35M218.36 396.93H221.36M218.36 417.35H221.36" stroke="#D9601C" stroke-opacity="0.5" stroke-width="1.1" fill="none"/>
<path d="M261.2 429.02V449.99M259.7 429.02H262.7M259.7 449.99H262.7" stroke="#D9601C" stroke-opacity="0.5" stroke-width="1.1" fill="none"/>
<path d="M302.54 467.28V487.33M301.04 467.28H304.04M301.04 487.33H304.04" stroke="#D9601C" stroke-opacity="0.5" stroke-width="1.1" fill="none"/>
<path d="M343.88 480.06V499.4M342.38 480.06H345.38M342.38 499.4H345.38" stroke="#D9601C" stroke-opacity="0.5" stroke-width="1.1" fill="none"/>
<path d="M137.18 351V368M135.68 351H138.68M135.68 368H138.68" stroke="#9A50B2" stroke-opacity="0.5" stroke-width="1.1" fill="none"/>
<path d="M178.52 401.52V422.09M177.02 401.52H180.02M177.02 422.09H180.02" stroke="#9A50B2" stroke-opacity="0.5" stroke-width="1.1" fill="none"/>
<path d="M219.86 453.03V473.62M218.36 453.03H221.36M218.36 473.62H221.36" stroke="#9A50B2" stroke-opacity="0.5" stroke-width="1.1" fill="none"/>
<path d="M261.2 491.87V510.37M259.7 491.87H262.7M259.7 510.37H262.7" stroke="#9A50B2" stroke-opacity="0.5" stroke-width="1.1" fill="none"/>
<path d="M302.54 509.81V526.6M301.04 509.81H304.04M301.04 526.6H304.04" stroke="#9A50B2" stroke-opacity="0.5" stroke-width="1.1" fill="none"/>
<path d="M343.88 518.08V533.87M342.38 518.08H345.38M342.38 533.87H345.38" stroke="#9A50B2" stroke-opacity="0.5" stroke-width="1.1" fill="none"/>
<path d="M219.86 309.54V313.68M218.36 309.54H221.36M218.36 313.68H221.36" stroke="#E0288A" stroke-opacity="0.5" stroke-width="1.1" fill="none"/>
<path d="M261.2 312.64V317.82M259.7 312.64H262.7M259.7 317.82H262.7" stroke="#E0288A" stroke-opacity="0.5" stroke-width="1.1" fill="none"/>
<path d="M302.54 317.3V322.48M301.04 317.3H304.04M301.04 322.48H304.04" stroke="#E0288A" stroke-opacity="0.5" stroke-width="1.1" fill="none"/>
<path d="M343.88 319.11V324.29M342.38 319.11H345.38M342.38 324.29H345.38" stroke="#E0288A" stroke-opacity="0.5" stroke-width="1.1" fill="none"/>
<path d="M219.86 313.64V322.52M218.36 313.64H221.36M218.36 322.52H221.36" stroke="#009E73" stroke-opacity="0.5" stroke-width="1.1" fill="none"/>
<path d="M261.2 321.12V332.65M259.7 321.12H262.7M259.7 332.65H262.7" stroke="#009E73" stroke-opacity="0.5" stroke-width="1.1" fill="none"/>
<path d="M302.54 327.56V340.71M301.04 327.56H304.04M301.04 340.71H304.04" stroke="#009E73" stroke-opacity="0.5" stroke-width="1.1" fill="none"/>
<path d="M343.88 331.77V345.81M342.38 331.77H345.38M342.38 345.81H345.38" stroke="#009E73" stroke-opacity="0.5" stroke-width="1.1" fill="none"/>
<path d="M178.52 312.38V320.67M177.02 312.38H180.02M177.02 320.67H180.02" stroke="#F0E442" stroke-opacity="0.5" stroke-width="1.1" fill="none"/>
<path d="M219.86 318.65V329.42M218.36 318.65H221.36M218.36 329.42H221.36" stroke="#F0E442" stroke-opacity="0.5" stroke-width="1.1" fill="none"/>
<path d="M261.2 326.16V338.99M259.7 326.16H262.7M259.7 338.99H262.7" stroke="#F0E442" stroke-opacity="0.5" stroke-width="1.1" fill="none"/>
<path d="M302.54 337.23V352.26M301.04 337.23H304.04M301.04 352.26H304.04" stroke="#F0E442" stroke-opacity="0.5" stroke-width="1.1" fill="none"/>
<path d="M343.88 343.23V359.2M342.38 343.23H345.38M342.38 359.2H345.38" stroke="#F0E442" stroke-opacity="0.5" stroke-width="1.1" fill="none"/>
<path d="M137.18 338.43V353.65M135.68 338.43H138.68M135.68 353.65H138.68" stroke="#882255" stroke-opacity="0.5" stroke-width="1.1" fill="none"/>
<path d="M178.52 376.24V395.58M177.02 376.24H180.02M177.02 395.58H180.02" stroke="#882255" stroke-opacity="0.5" stroke-width="1.1" fill="none"/>
<path d="M219.86 415.85V436.75M218.36 415.85H221.36M218.36 436.75H221.36" stroke="#882255" stroke-opacity="0.5" stroke-width="1.1" fill="none"/>
<path d="M261.2 451.19V471.83M259.7 451.19H262.7M259.7 471.83H262.7" stroke="#882255" stroke-opacity="0.5" stroke-width="1.1" fill="none"/>
<path d="M302.54 485.41V504.4M301.04 485.41H304.04M301.04 504.4H304.04" stroke="#882255" stroke-opacity="0.5" stroke-width="1.1" fill="none"/>
<path d="M343.88 494.03V512.35M342.38 494.03H345.38M342.38 512.35H345.38" stroke="#882255" stroke-opacity="0.5" stroke-width="1.1" fill="none"/>
<path d="M137.18 357.87V375.64M135.68 357.87H138.68M135.68 375.64H138.68" stroke="#CC6677" stroke-opacity="0.5" stroke-width="1.1" fill="none"/>
<path d="M178.52 418.43V439.35M177.02 418.43H180.02M177.02 439.35H180.02" stroke="#CC6677" stroke-opacity="0.5" stroke-width="1.1" fill="none"/>
<path d="M219.86 485.41V504.4M218.36 485.41H221.36M218.36 504.4H221.36" stroke="#CC6677" stroke-opacity="0.5" stroke-width="1.1" fill="none"/>
<path d="M261.2 527.28V541.76M259.7 527.28H262.7M259.7 541.76H262.7" stroke="#CC6677" stroke-opacity="0.5" stroke-width="1.1" fill="none"/>
<path d="M302.54 542.96V554.56M301.04 542.96H304.04M301.04 554.56H304.04" stroke="#CC6677" stroke-opacity="0.5" stroke-width="1.1" fill="none"/>
<path d="M343.88 550.95V560.55M342.38 550.95H345.38M342.38 560.55H345.38" stroke="#CC6677" stroke-opacity="0.5" stroke-width="1.1" fill="none"/>
<rect x="52.4" y="306.4" width="4.2" height="4.2" fill="#000000"/>
<rect x="93.74" y="306.4" width="4.2" height="4.2" fill="#000000"/>
<rect x="135.08" y="306.4" width="4.2" height="4.2" fill="#000000"/>
<rect x="176.42" y="306.4" width="4.2" height="4.2" fill="#000000"/>
<rect x="217.76" y="306.4" width="4.2" height="4.2" fill="#000000"/>
<rect x="259.1" y="306.4" width="4.2" height="4.2" fill="#000000"/>
<rect x="300.44" y="306.4" width="4.2" height="4.2" fill="#000000"/>
<rect x="341.78" y="306.4" width="4.2" height="4.2" fill="#000000"/>
<rect x="52.78" y="306.78" width="3.44" height="3.44" fill="#E69F00"/>
<rect x="94.12" y="306.78" width="3.44" height="3.44" fill="#E69F00"/>
<rect x="135.46" y="306.78" width="3.44" height="3.44" fill="#E69F00"/>
<rect x="176.8" y="306.78" width="3.44" height="3.44" fill="#E69F00"/>
<rect x="218.14" y="310.66" width="3.44" height="3.44" fill="#E69F00"/>
<rect x="259.48" y="314.55" width="3.44" height="3.44" fill="#E69F00"/>
<rect x="300.82" y="316.62" width="3.44" height="3.44" fill="#E69F00"/>
<rect x="342.16" y="319.72" width="3.44" height="3.44" fill="#E69F00"/>
<circle cx="54.5" cy="308.5" r="2.6" fill="#56B4E9"/>
<circle cx="95.84" cy="308.5" r="2.6" fill="#56B4E9"/>
<circle cx="137.18" cy="308.5" r="2.6" fill="#56B4E9"/>
<circle cx="178.52" cy="312.38" r="2.6" fill="#56B4E9"/>
<circle cx="219.86" cy="317.56" r="2.6" fill="#56B4E9"/>
<circle cx="261.2" cy="320.67" r="2.6" fill="#56B4E9"/>
<circle cx="302.54" cy="321.96" r="2.6" fill="#56B4E9"/>
<circle cx="343.88" cy="326.88" r="2.6" fill="#56B4E9"/>
<path d="M54.5 306.43L56.57 308.5L54.5 310.57L52.43 308.5Z" fill="#1273B4"/>
<path d="M95.84 306.43L97.91 308.5L95.84 310.57L93.77 308.5Z" fill="#1273B4"/>
<path d="M137.18 313.16L139.25 315.23L137.18 317.3L135.11 315.23Z" fill="#1273B4"/>
<path d="M178.52 321.96L180.59 324.03L178.52 326.1L176.45 324.03Z" fill="#1273B4"/>
<path d="M219.86 328.95L221.93 331.02L219.86 333.09L217.79 331.02Z" fill="#1273B4"/>
<path d="M261.2 342.42L263.27 344.49L261.2 346.56L259.13 344.49Z" fill="#1273B4"/>
<path d="M302.54 357.95L304.61 360.02L302.54 362.09L300.47 360.02Z" fill="#1273B4"/>
<path d="M343.88 364.94L345.95 367.01L343.88 369.08L341.81 367.01Z" fill="#1273B4"/>
<circle cx="54.5" cy="308.5" r="2.6" fill="#D9601C"/>
<circle cx="95.84" cy="308.5" r="2.6" fill="#D9601C"/>
<circle cx="137.18" cy="337.24" r="2.6" fill="#D9601C"/>
<circle cx="178.52" cy="364.94" r="2.6" fill="#D9601C"/>
<circle cx="219.86" cy="407.14" r="2.6" fill="#D9601C"/>
<circle cx="261.2" cy="439.5" r="2.6" fill="#D9601C"/>
<circle cx="302.54" cy="477.3" r="2.6" fill="#D9601C"/>
<circle cx="343.88" cy="489.73" r="2.6" fill="#D9601C"/>
<path d="M54.5 305.98L57.15 310.36L51.85 310.36Z" fill="#9A50B2"/>
<path d="M95.84 305.98L98.49 310.36L93.19 310.36Z" fill="#9A50B2"/>
<path d="M137.18 356.99L139.83 361.36L134.53 361.36Z" fill="#9A50B2"/>
<path d="M178.52 409.28L181.17 413.66L175.87 413.66Z" fill="#9A50B2"/>
<path d="M219.86 460.8L222.51 465.18L217.21 465.18Z" fill="#9A50B2"/>
<path d="M261.2 498.6L263.85 502.98L258.55 502.98Z" fill="#9A50B2"/>
<path d="M302.54 515.69L305.19 520.06L299.89 520.06Z" fill="#9A50B2"/>
<path d="M343.88 523.46L346.53 527.83L341.23 527.83Z" fill="#9A50B2"/>
<rect x="52.78" y="306.78" width="3.44" height="3.44" fill="#E0288A"/>
<rect x="94.12" y="306.78" width="3.44" height="3.44" fill="#E0288A"/>
<rect x="135.46" y="306.78" width="3.44" height="3.44" fill="#E0288A"/>
<rect x="176.8" y="306.78" width="3.44" height="3.44" fill="#E0288A"/>
<rect x="218.14" y="309.88" width="3.44" height="3.44" fill="#E0288A"/>
<rect x="259.48" y="313.51" width="3.44" height="3.44" fill="#E0288A"/>
<rect x="300.82" y="318.17" width="3.44" height="3.44" fill="#E0288A"/>
<rect x="342.16" y="319.98" width="3.44" height="3.44" fill="#E0288A"/>
<path d="M54.5 305.98L57.15 310.36L51.85 310.36Z" fill="#009E73"/>
<path d="M95.84 305.98L98.49 310.36L93.19 310.36Z" fill="#009E73"/>
<path d="M137.18 305.98L139.83 310.36L134.53 310.36Z" fill="#009E73"/>
<path d="M178.52 305.98L181.17 310.36L175.87 310.36Z" fill="#009E73"/>
<path d="M219.86 315.56L222.51 319.93L217.21 319.93Z" fill="#009E73"/>
<path d="M261.2 324.36L263.85 328.74L258.55 328.74Z" fill="#009E73"/>
<path d="M302.54 331.61L305.19 335.99L299.89 335.99Z" fill="#009E73"/>
<path d="M343.88 336.27L346.53 340.65L341.23 340.65Z" fill="#009E73"/>
<circle cx="54.5" cy="308.5" r="2.86" fill="#F0E442"/>
<circle cx="95.84" cy="308.5" r="2.86" fill="#F0E442"/>
<circle cx="137.18" cy="308.5" r="2.86" fill="#F0E442"/>
<circle cx="178.52" cy="316.53" r="2.86" fill="#F0E442"/>
<circle cx="219.86" cy="324.03" r="2.86" fill="#F0E442"/>
<circle cx="261.2" cy="332.58" r="2.86" fill="#F0E442"/>
<circle cx="302.54" cy="344.75" r="2.86" fill="#F0E442"/>
<circle cx="343.88" cy="351.22" r="2.86" fill="#F0E442"/>
<circle cx="54.5" cy="308.5" r="2.6" fill="#882255"/>
<circle cx="95.84" cy="308.5" r="2.6" fill="#882255"/>
<circle cx="137.18" cy="346.04" r="2.6" fill="#882255"/>
<circle cx="178.52" cy="385.91" r="2.6" fill="#882255"/>
<circle cx="219.86" cy="426.3" r="2.6" fill="#882255"/>
<circle cx="261.2" cy="461.51" r="2.6" fill="#882255"/>
<circle cx="302.54" cy="494.91" r="2.6" fill="#882255"/>
<circle cx="343.88" cy="503.19" r="2.6" fill="#882255"/>
<circle cx="54.5" cy="308.5" r="2.34" fill="#CC6677"/>
<circle cx="95.84" cy="308.5" r="2.34" fill="#CC6677"/>
<circle cx="137.18" cy="366.75" r="2.34" fill="#CC6677"/>
<circle cx="178.52" cy="428.89" r="2.34" fill="#CC6677"/>
<circle cx="219.86" cy="494.91" r="2.34" fill="#CC6677"/>
<circle cx="261.2" cy="534.52" r="2.34" fill="#CC6677"/>
<circle cx="302.54" cy="548.76" r="2.34" fill="#CC6677"/>
<circle cx="343.88" cy="555.75" r="2.34" fill="#CC6677"/>
<path d="M51.02 478.6H77.58" stroke="#000000" stroke-width="1.45" stroke-linecap="round"/>
<text x="84.7" y="481.29" class="lg" style="font-size:7.48px">OR</text>
<path d="M51.02 487.49H77.58" stroke="#E69F00" stroke-width="1.45" stroke-linecap="round"/>
<text x="84.7" y="490.18" class="lg" style="font-size:7.48px">Rel-RNAi</text>
<path d="M51.02 496.38H77.58" stroke="#56B4E9" stroke-width="1.45" stroke-linecap="round" stroke-dasharray="5.3,5.9"/>
<text x="84.7" y="499.07" class="lg" style="font-size:7.48px">Rel-RNAi + M. luteus</text>
<path d="M51.02 505.27H77.58" stroke="#1273B4" stroke-width="1.45" stroke-linecap="round" stroke-dasharray="2.5,3.4,7.7,3.4"/>
<text x="84.7" y="507.96" class="lg" style="font-size:7.48px">Rel-RNAi + S. aureus</text>
<path d="M51.02 514.16H77.58" stroke="#D9601C" stroke-width="1.45" stroke-linecap="round" stroke-dasharray="9.3,4.7"/>
<text x="84.7" y="516.85" class="lg" style="font-size:7.48px">Rel-RNAi + E. coli</text>
<path d="M51.02 523.05H77.58" stroke="#9A50B2" stroke-width="1.45" stroke-linecap="round" stroke-dasharray="1.2,4.3"/>
<text x="84.7" y="525.74" class="lg" style="font-size:7.48px">Rel-RNAi + P. aeruginosa</text>
<path d="M51.02 531.94H77.58" stroke="#E0288A" stroke-width="1.45" stroke-linecap="round"/>
<text x="84.7" y="534.63" class="lg" style="font-size:7.48px">Dif-RNAi</text>
<path d="M51.02 540.83H77.58" stroke="#009E73" stroke-width="1.45" stroke-linecap="round" stroke-dasharray="1.2,4.3"/>
<text x="84.7" y="543.52" class="lg" style="font-size:7.48px">Dif-RNAi + P. aeruginosa</text>
<path d="M51.02 549.72H77.58" stroke="#F0E442" stroke-width="1.45" stroke-linecap="round" stroke-dasharray="9.3,4.7"/>
<text x="84.7" y="552.41" class="lg" style="font-size:7.48px">Dif-RNAi + E. coli</text>
<path d="M51.02 558.61H77.58" stroke="#882255" stroke-width="1.45" stroke-linecap="round" stroke-dasharray="5.3,5.9"/>
<text x="84.7" y="561.3" class="lg" style="font-size:7.48px">Dif-RNAi + M. luteus</text>
<path d="M51.02 567.5H77.58" stroke="#CC6677" stroke-width="1.45" stroke-linecap="round" stroke-dasharray="2.5,3.4,7.7,3.4"/>
<text x="84.7" y="570.19" class="lg" style="font-size:7.48px">Dif-RNAi + S. aureus</text>
<path d="M156.1 483.5H158.5V500.5H156.1" fill="none" stroke="#4a4a4a" stroke-width="0.95"/>
<text x="160.1" y="494.4" class="ns">ns</text>
<path d="M167.1 483.5H169.5V507.5H167.1" fill="none" stroke="#4a4a4a" stroke-width="0.95"/>
<text transform="translate(168.14 490.55) rotate(90)" class="ast" style="font-size:8.8px;letter-spacing:0.58px">***</text>
<path d="M177.1 483.5H179.5V516.5H177.1" fill="none" stroke="#4a4a4a" stroke-width="0.95"/>
<text transform="translate(178.14 490.55) rotate(90)" class="ast" style="font-size:8.8px;letter-spacing:0.58px">****</text>
<path d="M185.1 483.5H187.5V525.5H185.1" fill="none" stroke="#4a4a4a" stroke-width="0.95"/>
<text transform="translate(186.14 490.55) rotate(90)" class="ast" style="font-size:8.8px;letter-spacing:0.58px">****</text>
<path d="M177.1 527.5H179.5V544.5H177.1" fill="none" stroke="#4a4a4a" stroke-width="0.95"/>
<text transform="translate(178.14 534.65) rotate(90)" class="ast" style="font-size:8.8px;letter-spacing:0.58px">*</text>
<path d="M185.1 527.5H187.5V553.5H185.1" fill="none" stroke="#4a4a4a" stroke-width="0.95"/>
<text transform="translate(186.14 534.65) rotate(90)" class="ast" style="font-size:8.8px;letter-spacing:0.58px">*</text>
<path d="M194.1 527.5H196.5V561.5H194.1" fill="none" stroke="#4a4a4a" stroke-width="0.95"/>
<text transform="translate(195.14 534.95) rotate(90)" class="ast" style="font-size:8.8px;letter-spacing:0.58px">****</text>
<path d="M203.1 527.5H205.5V570.5H203.1" fill="none" stroke="#4a4a4a" stroke-width="0.95"/>
<text transform="translate(204.14 534.95) rotate(90)" class="ast" style="font-size:8.8px;letter-spacing:0.58px">****</text>
<path d="M366.3 577.7V306.6H375.4V297.9H678.5" fill="none" stroke="#8a8a8a" stroke-width="1.45"/>
<path d="M678.5 297.9V577.7H366.3" fill="none" stroke="#585858" stroke-width="1.05"/>
<path d="M360.9 567.3H366.3" stroke="#555" stroke-width="1"/>
<path d="M360.9 515.48H366.3" stroke="#555" stroke-width="1"/>
<path d="M360.9 463.66H366.3" stroke="#555" stroke-width="1"/>
<path d="M360.9 411.84H366.3" stroke="#555" stroke-width="1"/>
<path d="M360.9 360.02H366.3" stroke="#555" stroke-width="1"/>
<path d="M360.9 308.2H366.3" stroke="#555" stroke-width="1"/>
<path d="M377.8 577.7V582.5" stroke="#555" stroke-width="1"/>
<text x="377.8" y="597" text-anchor="middle" class="tk">0</text>
<path d="M446.7 577.7V582.5" stroke="#555" stroke-width="1"/>
<text x="446.7" y="597" text-anchor="middle" class="tk">10</text>
<path d="M515.6 577.7V582.5" stroke="#555" stroke-width="1"/>
<text x="515.6" y="597" text-anchor="middle" class="tk">20</text>
<path d="M584.5 577.7V582.5" stroke="#555" stroke-width="1"/>
<text x="584.5" y="597" text-anchor="middle" class="tk">30</text>
<path d="M653.4 577.7V582.5" stroke="#555" stroke-width="1"/>
<text x="653.4" y="597" text-anchor="middle" class="tk">40</text>
<text x="363.8" y="304.5" class="pl">d</text>
<polyline points="377.8,308.2 419.14,308.2 460.48,308.2 501.82,308.2 543.16,308.2 584.5,308.2 625.84,308.2 667.18,308.2" fill="none" stroke="#000000" stroke-width="1.7" stroke-linecap="round" stroke-linejoin="round"/>
<polyline points="377.8,308.2 419.14,308.2 460.48,308.2 501.82,308.2 543.16,312.09 584.5,316.49 625.84,318.3 667.18,321.41" fill="none" stroke="#E69F00" stroke-width="1.7" stroke-linecap="round" stroke-linejoin="round"/>
<polyline points="377.8,308.2 419.14,308.2 460.48,308.2 501.82,308.2 543.16,312.6 584.5,323.23 625.84,333.85 667.18,338.51" fill="none" stroke="#56B4E9" stroke-width="1.7" stroke-linecap="round" stroke-linejoin="round" stroke-dasharray="5.3,5.9"/>
<polyline points="377.8,308.2 419.14,308.2 460.48,308.2 501.82,318.56 543.16,324.01 584.5,333.85 625.84,344.47 667.18,354.32" fill="none" stroke="#009E73" stroke-width="1.7" stroke-linecap="round" stroke-linejoin="round" stroke-dasharray="1.2,4.3"/>
<polyline points="377.8,308.2 419.14,308.2 460.48,318.05 501.82,329.45 543.16,348.88 584.5,365.2 625.84,370.64 667.18,375.57" fill="none" stroke="#F0E442" stroke-width="1.7" stroke-linecap="round" stroke-linejoin="round" stroke-dasharray="9.3,4.7"/>
<polyline points="377.8,308.2 419.14,308.2 460.48,308.2 501.82,308.2 543.16,311.31 584.5,314.94 625.84,319.6 667.18,322.19" fill="none" stroke="#E0288A" stroke-width="1.7" stroke-linecap="round" stroke-linejoin="round"/>
<polyline points="377.8,308.2 419.14,308.2 460.48,343.96 501.82,384.63 543.16,423.5 584.5,457.18 625.84,493.97 667.18,504.08" fill="none" stroke="#1273B4" stroke-width="1.7" stroke-linecap="round" stroke-linejoin="round" stroke-dasharray="5.3,5.9"/>
<polyline points="377.8,308.2 419.14,308.2 460.48,358.98 501.82,411.06 543.16,457.96 584.5,493.97 625.84,509.52 667.18,520.14" fill="none" stroke="#D9601C" stroke-width="1.7" stroke-linecap="round" stroke-linejoin="round" stroke-dasharray="1.2,4.3"/>
<polyline points="377.8,308.2 419.14,308.2 460.48,365.46 501.82,426.35 543.16,493.97 584.5,529.99 625.84,546.31 667.18,551.75" fill="none" stroke="#882255" stroke-width="1.7" stroke-linecap="round" stroke-linejoin="round" stroke-dasharray="9.3,4.7"/>
<path d="M543.16 310.01V314.16M541.66 310.01H544.66M541.66 314.16H544.66" stroke="#E69F00" stroke-opacity="0.5" stroke-width="1.1" fill="none"/>
<path d="M584.5 313.9V319.08M583 313.9H586M583 319.08H586" stroke="#E69F00" stroke-opacity="0.5" stroke-width="1.1" fill="none"/>
<path d="M625.84 315.71V320.9M624.34 315.71H627.34M624.34 320.9H627.34" stroke="#E69F00" stroke-opacity="0.5" stroke-width="1.1" fill="none"/>
<path d="M667.18 318.82V324.01M665.68 318.82H668.68M665.68 324.01H668.68" stroke="#E69F00" stroke-opacity="0.5" stroke-width="1.1" fill="none"/>
<path d="M543.16 309.32V315.89M541.66 309.32H544.66M541.66 315.89H544.66" stroke="#56B4E9" stroke-opacity="0.5" stroke-width="1.1" fill="none"/>
<path d="M584.5 317.91V328.55M583 317.91H586M583 328.55H586" stroke="#56B4E9" stroke-opacity="0.5" stroke-width="1.1" fill="none"/>
<path d="M625.84 327.27V340.43M624.34 327.27H627.34M624.34 340.43H627.34" stroke="#56B4E9" stroke-opacity="0.5" stroke-width="1.1" fill="none"/>
<path d="M667.18 331.49V345.54M665.68 331.49H668.68M665.68 345.54H668.68" stroke="#56B4E9" stroke-opacity="0.5" stroke-width="1.1" fill="none"/>
<path d="M501.82 313.98V323.15M500.32 313.98H503.32M500.32 323.15H503.32" stroke="#009E73" stroke-opacity="0.5" stroke-width="1.1" fill="none"/>
<path d="M543.16 318.58V329.43M541.66 318.58H544.66M541.66 329.43H544.66" stroke="#009E73" stroke-opacity="0.5" stroke-width="1.1" fill="none"/>
<path d="M584.5 327.27V340.43M583 327.27H586M583 340.43H586" stroke="#009E73" stroke-opacity="0.5" stroke-width="1.1" fill="none"/>
<path d="M625.84 336.95V351.99M624.34 336.95H627.34M624.34 351.99H627.34" stroke="#009E73" stroke-opacity="0.5" stroke-width="1.1" fill="none"/>
<path d="M667.18 346.11V362.53M665.68 346.11H668.68M665.68 362.53H668.68" stroke="#009E73" stroke-opacity="0.5" stroke-width="1.1" fill="none"/>
<path d="M460.48 313.55V322.54M458.98 313.55H461.98M458.98 322.54H461.98" stroke="#F0E442" stroke-opacity="0.5" stroke-width="1.1" fill="none"/>
<path d="M501.82 323.34V335.56M500.32 323.34H503.32M500.32 335.56H503.32" stroke="#F0E442" stroke-opacity="0.5" stroke-width="1.1" fill="none"/>
<path d="M543.16 341.03V356.73M541.66 341.03H544.66M541.66 356.73H544.66" stroke="#F0E442" stroke-opacity="0.5" stroke-width="1.1" fill="none"/>
<path d="M584.5 356.37V374.03M583 356.37H586M583 374.03H586" stroke="#F0E442" stroke-opacity="0.5" stroke-width="1.1" fill="none"/>
<path d="M625.84 361.55V379.73M624.34 361.55H627.34M624.34 379.73H627.34" stroke="#F0E442" stroke-opacity="0.5" stroke-width="1.1" fill="none"/>
<path d="M667.18 366.26V384.87M665.68 366.26H668.68M665.68 384.87H668.68" stroke="#F0E442" stroke-opacity="0.5" stroke-width="1.1" fill="none"/>
<path d="M543.16 309.24V313.38M541.66 309.24H544.66M541.66 313.38H544.66" stroke="#E0288A" stroke-opacity="0.5" stroke-width="1.1" fill="none"/>
<path d="M584.5 312.35V317.53M583 312.35H586M583 317.53H586" stroke="#E0288A" stroke-opacity="0.5" stroke-width="1.1" fill="none"/>
<path d="M625.84 317.01V322.19M624.34 317.01H627.34M624.34 322.19H627.34" stroke="#E0288A" stroke-opacity="0.5" stroke-width="1.1" fill="none"/>
<path d="M667.18 319.6V324.78M665.68 319.6H668.68M665.68 324.78H668.68" stroke="#E0288A" stroke-opacity="0.5" stroke-width="1.1" fill="none"/>
<path d="M460.48 336.48V351.44M458.98 336.48H461.98M458.98 351.44H461.98" stroke="#1273B4" stroke-opacity="0.5" stroke-width="1.1" fill="none"/>
<path d="M501.82 375V394.27M500.32 375H503.32M500.32 394.27H503.32" stroke="#1273B4" stroke-opacity="0.5" stroke-width="1.1" fill="none"/>
<path d="M543.16 413.06V433.93M541.66 413.06H544.66M541.66 433.93H544.66" stroke="#1273B4" stroke-opacity="0.5" stroke-width="1.1" fill="none"/>
<path d="M584.5 446.8V467.57M583 446.8H586M583 467.57H586" stroke="#1273B4" stroke-opacity="0.5" stroke-width="1.1" fill="none"/>
<path d="M625.84 484.44V503.51M624.34 484.44H627.34M624.34 503.51H627.34" stroke="#1273B4" stroke-opacity="0.5" stroke-width="1.1" fill="none"/>
<path d="M667.18 494.96V513.2M665.68 494.96H668.68M665.68 513.2H668.68" stroke="#1273B4" stroke-opacity="0.5" stroke-width="1.1" fill="none"/>
<path d="M460.48 350.49V367.47M458.98 350.49H461.98M458.98 367.47H461.98" stroke="#D9601C" stroke-opacity="0.5" stroke-width="1.1" fill="none"/>
<path d="M501.82 400.78V421.35M500.32 400.78H503.32M500.32 421.35H503.32" stroke="#D9601C" stroke-opacity="0.5" stroke-width="1.1" fill="none"/>
<path d="M543.16 447.59V468.33M541.66 447.59H544.66M541.66 468.33H544.66" stroke="#D9601C" stroke-opacity="0.5" stroke-width="1.1" fill="none"/>
<path d="M584.5 484.44V503.51M583 484.44H586M583 503.51H586" stroke="#D9601C" stroke-opacity="0.5" stroke-width="1.1" fill="none"/>
<path d="M625.84 500.65V518.39M624.34 500.65H627.34M624.34 518.39H627.34" stroke="#D9601C" stroke-opacity="0.5" stroke-width="1.1" fill="none"/>
<path d="M667.18 511.87V528.42M665.68 511.87H668.68M665.68 528.42H668.68" stroke="#D9601C" stroke-opacity="0.5" stroke-width="1.1" fill="none"/>
<path d="M460.48 356.62V374.3M458.98 356.62H461.98M458.98 374.3H461.98" stroke="#882255" stroke-opacity="0.5" stroke-width="1.1" fill="none"/>
<path d="M501.82 415.89V436.81M500.32 415.89H503.32M500.32 436.81H503.32" stroke="#882255" stroke-opacity="0.5" stroke-width="1.1" fill="none"/>
<path d="M543.16 484.44V503.51M541.66 484.44H544.66M541.66 503.51H544.66" stroke="#882255" stroke-opacity="0.5" stroke-width="1.1" fill="none"/>
<path d="M584.5 522.39V537.59M583 522.39H586M583 537.59H586" stroke="#882255" stroke-opacity="0.5" stroke-width="1.1" fill="none"/>
<path d="M625.84 540.23V552.39M624.34 540.23H627.34M624.34 552.39H627.34" stroke="#882255" stroke-opacity="0.5" stroke-width="1.1" fill="none"/>
<path d="M667.18 546.36V557.15M665.68 546.36H668.68M665.68 557.15H668.68" stroke="#882255" stroke-opacity="0.5" stroke-width="1.1" fill="none"/>
<rect x="375.7" y="306.1" width="4.2" height="4.2" fill="#000000"/>
<rect x="417.04" y="306.1" width="4.2" height="4.2" fill="#000000"/>
<rect x="458.38" y="306.1" width="4.2" height="4.2" fill="#000000"/>
<rect x="499.72" y="306.1" width="4.2" height="4.2" fill="#000000"/>
<rect x="541.06" y="306.1" width="4.2" height="4.2" fill="#000000"/>
<rect x="582.4" y="306.1" width="4.2" height="4.2" fill="#000000"/>
<rect x="623.74" y="306.1" width="4.2" height="4.2" fill="#000000"/>
<rect x="665.08" y="306.1" width="4.2" height="4.2" fill="#000000"/>
<rect x="375.7" y="306.1" width="4.2" height="4.2" fill="#E69F00"/>
<rect x="417.04" y="306.1" width="4.2" height="4.2" fill="#E69F00"/>
<rect x="458.38" y="306.1" width="4.2" height="4.2" fill="#E69F00"/>
<rect x="499.72" y="306.1" width="4.2" height="4.2" fill="#E69F00"/>
<rect x="541.06" y="309.99" width="4.2" height="4.2" fill="#E69F00"/>
<rect x="582.4" y="314.39" width="4.2" height="4.2" fill="#E69F00"/>
<rect x="623.74" y="316.2" width="4.2" height="4.2" fill="#E69F00"/>
<rect x="665.08" y="319.31" width="4.2" height="4.2" fill="#E69F00"/>
<path d="M377.8 305.68L380.45 310.06L375.15 310.06Z" fill="#56B4E9"/>
<path d="M419.14 305.68L421.79 310.06L416.49 310.06Z" fill="#56B4E9"/>
<path d="M460.48 305.68L463.13 310.06L457.83 310.06Z" fill="#56B4E9"/>
<path d="M501.82 305.68L504.47 310.06L499.17 310.06Z" fill="#56B4E9"/>
<path d="M543.16 310.09L545.81 314.46L540.51 314.46Z" fill="#56B4E9"/>
<path d="M584.5 320.71L587.15 325.08L581.85 325.08Z" fill="#56B4E9"/>
<path d="M625.84 331.33L628.49 335.71L623.19 335.71Z" fill="#56B4E9"/>
<path d="M667.18 336L669.83 340.37L664.53 340.37Z" fill="#56B4E9"/>
<circle cx="377.8" cy="308.2" r="2.73" fill="#009E73"/>
<circle cx="419.14" cy="308.2" r="2.73" fill="#009E73"/>
<circle cx="460.48" cy="308.2" r="2.73" fill="#009E73"/>
<circle cx="501.82" cy="318.56" r="2.73" fill="#009E73"/>
<circle cx="543.16" cy="324.01" r="2.73" fill="#009E73"/>
<circle cx="584.5" cy="333.85" r="2.73" fill="#009E73"/>
<circle cx="625.84" cy="344.47" r="2.73" fill="#009E73"/>
<circle cx="667.18" cy="354.32" r="2.73" fill="#009E73"/>
<path d="M375.6 308.2L380 308.2M377.8 306L377.8 310.4" stroke="#F0E442" stroke-width="1.4" fill="none"/>
<path d="M416.94 308.2L421.34 308.2M419.14 306L419.14 310.4" stroke="#F0E442" stroke-width="1.4" fill="none"/>
<path d="M458.28 318.05L462.68 318.05M460.48 315.85L460.48 320.25" stroke="#F0E442" stroke-width="1.4" fill="none"/>
<path d="M499.62 329.45L504.02 329.45M501.82 327.25L501.82 331.65" stroke="#F0E442" stroke-width="1.4" fill="none"/>
<path d="M540.96 348.88L545.36 348.88M543.16 346.68L543.16 351.08" stroke="#F0E442" stroke-width="1.4" fill="none"/>
<path d="M582.3 365.2L586.7 365.2M584.5 363L584.5 367.4" stroke="#F0E442" stroke-width="1.4" fill="none"/>
<path d="M623.64 370.64L628.04 370.64M625.84 368.44L625.84 372.84" stroke="#F0E442" stroke-width="1.4" fill="none"/>
<path d="M664.98 375.57L669.38 375.57M667.18 373.37L667.18 377.77" stroke="#F0E442" stroke-width="1.4" fill="none"/>
<circle cx="377.8" cy="308.2" r="2.21" fill="#E0288A"/>
<circle cx="419.14" cy="308.2" r="2.21" fill="#E0288A"/>
<circle cx="460.48" cy="308.2" r="2.21" fill="#E0288A"/>
<circle cx="501.82" cy="308.2" r="2.21" fill="#E0288A"/>
<circle cx="543.16" cy="311.31" r="2.21" fill="#E0288A"/>
<circle cx="584.5" cy="314.94" r="2.21" fill="#E0288A"/>
<circle cx="625.84" cy="319.6" r="2.21" fill="#E0288A"/>
<circle cx="667.18" cy="322.19" r="2.21" fill="#E0288A"/>
<path d="M377.8 305.68L380.45 310.06L375.15 310.06Z" fill="#1273B4"/>
<path d="M419.14 305.68L421.79 310.06L416.49 310.06Z" fill="#1273B4"/>
<path d="M460.48 341.44L463.13 345.81L457.83 345.81Z" fill="#1273B4"/>
<path d="M501.82 382.12L504.47 386.49L499.17 386.49Z" fill="#1273B4"/>
<path d="M543.16 420.98L545.81 425.35L540.51 425.35Z" fill="#1273B4"/>
<path d="M584.5 454.67L587.15 459.04L581.85 459.04Z" fill="#1273B4"/>
<path d="M625.84 491.46L628.49 495.83L623.19 495.83Z" fill="#1273B4"/>
<path d="M667.18 501.56L669.83 505.93L664.53 505.93Z" fill="#1273B4"/>
<circle cx="377.8" cy="308.2" r="2.86" fill="#D9601C"/>
<circle cx="419.14" cy="308.2" r="2.86" fill="#D9601C"/>
<circle cx="460.48" cy="358.98" r="2.86" fill="#D9601C"/>
<circle cx="501.82" cy="411.06" r="2.86" fill="#D9601C"/>
<circle cx="543.16" cy="457.96" r="2.86" fill="#D9601C"/>
<circle cx="584.5" cy="493.97" r="2.86" fill="#D9601C"/>
<circle cx="625.84" cy="509.52" r="2.86" fill="#D9601C"/>
<circle cx="667.18" cy="520.14" r="2.86" fill="#D9601C"/>
<circle cx="377.8" cy="308.2" r="1.77" fill="#882255"/>
<circle cx="419.14" cy="308.2" r="1.77" fill="#882255"/>
<circle cx="460.48" cy="365.46" r="1.77" fill="#882255"/>
<circle cx="501.82" cy="426.35" r="1.77" fill="#882255"/>
<circle cx="543.16" cy="493.97" r="1.77" fill="#882255"/>
<circle cx="584.5" cy="529.99" r="1.77" fill="#882255"/>
<circle cx="625.84" cy="546.31" r="1.77" fill="#882255"/>
<circle cx="667.18" cy="551.75" r="1.77" fill="#882255"/>
<path d="M374.27 489.2H403.12" stroke="#000000" stroke-width="1.75" stroke-linecap="round"/>
<text x="410.9" y="492.13" class="lg" style="font-size:8.15px">OR</text>
<path d="M374.27 498.93H403.12" stroke="#E69F00" stroke-width="1.75" stroke-linecap="round"/>
<text x="410.9" y="501.86" class="lg" style="font-size:8.15px">Rel-RNAi</text>
<path d="M374.27 508.66H403.12" stroke="#56B4E9" stroke-width="1.75" stroke-linecap="round" stroke-dasharray="5.3,5.9"/>
<text x="410.9" y="511.59" class="lg" style="font-size:8.15px">Rel-RNAi + S. cerevisiae</text>
<path d="M374.27 518.39H403.12" stroke="#009E73" stroke-width="1.75" stroke-linecap="round" stroke-dasharray="1.2,4.3"/>
<text x="410.9" y="521.32" class="lg" style="font-size:8.15px">Rel-RNAi + C. albicans</text>
<path d="M374.27 528.12H403.12" stroke="#F0E442" stroke-width="1.75" stroke-linecap="round" stroke-dasharray="9.3,4.7"/>
<text x="410.9" y="531.05" class="lg" style="font-size:8.15px">Rel-RNAi + B. bassiana</text>
<path d="M374.27 537.85H403.12" stroke="#E0288A" stroke-width="1.75" stroke-linecap="round"/>
<text x="410.9" y="540.78" class="lg" style="font-size:8.15px">Dif-RNAi</text>
<path d="M374.27 547.58H403.12" stroke="#1273B4" stroke-width="1.75" stroke-linecap="round" stroke-dasharray="5.3,5.9"/>
<text x="410.9" y="550.51" class="lg" style="font-size:8.15px">Dif-RNAi + S. cerevisiae</text>
<path d="M374.27 557.31H403.12" stroke="#D9601C" stroke-width="1.75" stroke-linecap="round" stroke-dasharray="1.2,4.3"/>
<text x="410.9" y="560.24" class="lg" style="font-size:8.15px">Dif-RNAi + C. albicans</text>
<path d="M374.27 567.04H403.12" stroke="#882255" stroke-width="1.75" stroke-linecap="round" stroke-dasharray="9.3,4.7"/>
<text x="410.9" y="569.97" class="lg" style="font-size:8.15px">Dif-RNAi + B. bassiana</text>
<path d="M503.1 494.5H505.5V512.5H503.1" fill="none" stroke="#4a4a4a" stroke-width="0.95"/>
<text transform="translate(503.8 501.2) rotate(90)" class="ast" style="font-size:8.5px;letter-spacing:0.89px">*</text>
<path d="M512.1 494.5H514.5V520.5H512.1" fill="none" stroke="#4a4a4a" stroke-width="0.95"/>
<text transform="translate(512.8 501.2) rotate(90)" class="ast" style="font-size:8.5px;letter-spacing:0.89px">**</text>
<path d="M520.1 494.5H522.5V529.5H520.1" fill="none" stroke="#4a4a4a" stroke-width="0.95"/>
<text transform="translate(520.8 501.4) rotate(90)" class="ast" style="font-size:8.5px;letter-spacing:0.89px">***</text>
<path d="M503.1 533.5H505.5V552.5H503.1" fill="none" stroke="#4a4a4a" stroke-width="0.95"/>
<text transform="translate(503.8 536.3) rotate(90)" class="ast" style="font-size:8.5px;letter-spacing:0.89px">****</text>
<path d="M512.1 533.5H514.5V560.5H512.1" fill="none" stroke="#4a4a4a" stroke-width="0.95"/>
<text transform="translate(512.8 536.3) rotate(90)" class="ast" style="font-size:8.5px;letter-spacing:0.89px">****</text>
<path d="M520.1 533.5H522.5V572.5H520.1" fill="none" stroke="#4a4a4a" stroke-width="0.95"/>
<text transform="translate(520.8 536.3) rotate(90)" class="ast" style="font-size:8.5px;letter-spacing:0.89px">****</text>
<text transform="translate(11.6 293.1) rotate(-90)" text-anchor="middle" class="ax">Percent Survival</text>
<text x="365.4" y="610.3" text-anchor="middle" class="ax">Time After Infection (hr)</text>
</svg>
</body></html>
